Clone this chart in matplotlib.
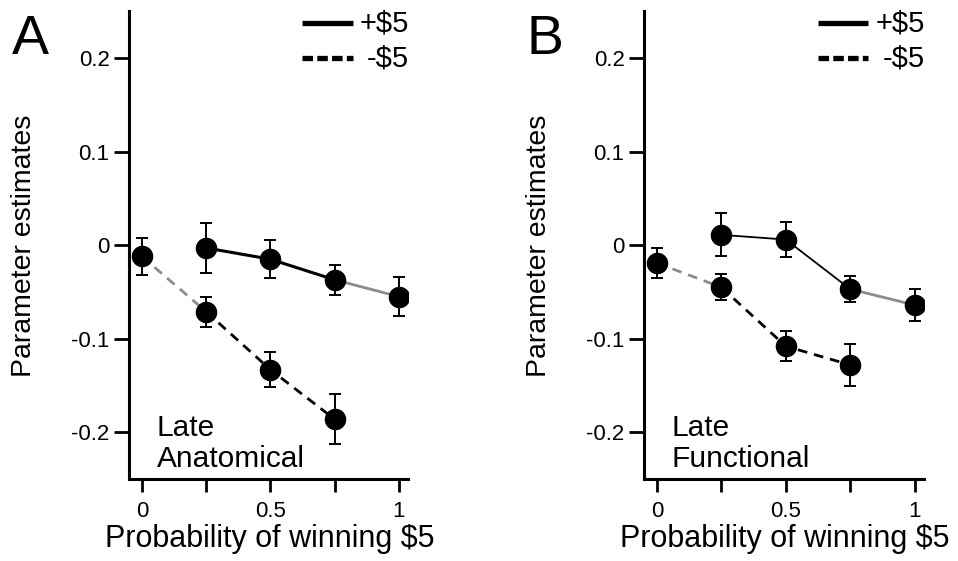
import matplotlib
matplotlib.use("Agg")
import matplotlib.pyplot as plt

plt.rcParams['font.family'] = ['Liberation Sans', 'DejaVu Sans']

# probability of winning $5
probs = [0, 0.25, 0.5, 0.75, 1]

# panel A: Late Anatomical
a_win_x = [0.25, 0.5, 0.75, 1]
a_win_y = [-0.003, -0.015, -0.037, -0.055]
a_win_err = [0.027, 0.020, 0.016, 0.021]
a_loss_x = [0, 0.25, 0.5, 0.75]
a_loss_y = [-0.012, -0.071, -0.133, -0.186]
a_loss_err = [0.020, 0.016, 0.019, 0.027]

# panel B: Late Functional
b_win_x = [0.25, 0.5, 0.75, 1]
b_win_y = [0.011, 0.006, -0.047, -0.064]
b_win_err = [0.023, 0.019, 0.014, 0.017]
b_loss_x = [0, 0.25, 0.5, 0.75]
b_loss_y = [-0.019, -0.045, -0.108, -0.128]
b_loss_err = [0.016, 0.014, 0.016, 0.022]

yticks = [-0.2, -0.1, 0, 0.1, 0.2]
ytick_labels = ['-0.2', '-0.1', '0', '0.1', '0.2']
xtick_labels = ['0', '', '0.5', '', '1']
legend_labels = ['+$5', '-$5']

GRAY = '#8c8c8c'
DASH = (0, (3.5, 2.5))

fig = plt.figure(figsize=(9.58, 5.61), dpi=100)
axA = fig.add_axes([0.1347, 0.146, 0.291, 0.834])
axB = fig.add_axes([0.6722, 0.146, 0.292, 0.834])


def draw_panel(ax, wx, wy, we, lx, ly, le, win_lw, name, letter):
    # gray end segments (0 -> 0.25 for loss, 0.75 -> 1 for win)
    ax.plot(lx[:2], ly[:2], color=GRAY, lw=2.0, ls=DASH, zorder=1)
    ax.plot(wx[-2:], wy[-2:], color=GRAY, lw=2.0, zorder=1)
    # black segments
    ax.plot(lx[1:], ly[1:], color='black', lw=2.0, ls=DASH, zorder=2)
    ax.plot(wx[:-1], wy[:-1], color='black', lw=win_lw, zorder=2)
    for x, y, e in ((wx, wy, we), (lx, ly, le)):
        ax.errorbar(x, y, yerr=e, fmt='o', color='black', ms=14.5,
                    elinewidth=1.4, capsize=4, capthick=1.4, zorder=3)

    ax.set_xlim(-0.05, 1.035)
    ax.set_ylim(-0.25, 0.25)
    ax.set_yticks(yticks)
    ax.set_yticklabels(ytick_labels)
    ax.set_xticks(probs)
    ax.set_xticklabels(xtick_labels)
    for s in ('top', 'right'):
        ax.spines[s].set_visible(False)
    for s in ('left', 'bottom'):
        ax.spines[s].set_linewidth(2.2)
    ax.tick_params(axis='y', direction='out', length=11, width=2, labelsize=16, pad=3)
    ax.tick_params(axis='x', direction='out', length=9.5, width=2, labelsize=16, pad=6)
    ax.set_xlabel('Probability of winning $5', fontsize=22)
    ax.set_ylabel('Parameter estimates', fontsize=20.5)
    ax.xaxis.set_label_coords(0.505, -0.095)
    ax.yaxis.set_label_coords(-0.33, 0.498)
    ax.text(0.10, 0.012, 'Late\n' + name, transform=ax.transAxes, fontsize=21.5,
            ha='left', va='bottom', linespacing=1.15)
    ax.text(-0.42, 0.995, letter, transform=ax.transAxes, fontsize=40,
            ha='left', va='top')

    # legend drawn by hand in axes coordinates
    ax.plot([0.622, 0.802], [0.974, 0.974], transform=ax.transAxes, color='black',
            lw=3.8, solid_capstyle='butt', clip_on=False)
    ax.plot([0.622, 0.802], [0.899, 0.899], transform=ax.transAxes, color='black',
            lw=3.8, ls=(0, (2.0, 0.8)), dash_capstyle='butt', clip_on=False)
    for yy, lab in zip((0.974, 0.899), legend_labels):
        ax.text(1.005, yy, lab, transform=ax.transAxes, fontsize=21,
                ha='right', va='center')


draw_panel(axA, a_win_x, a_win_y, a_win_err, a_loss_x, a_loss_y, a_loss_err,
           2.2, 'Anatomical', 'A')
draw_panel(axB, b_win_x, b_win_y, b_win_err, b_loss_x, b_loss_y, b_loss_err,
           1.3, 'Functional', 'B')

fig.savefig('out.png', dpi=100)
